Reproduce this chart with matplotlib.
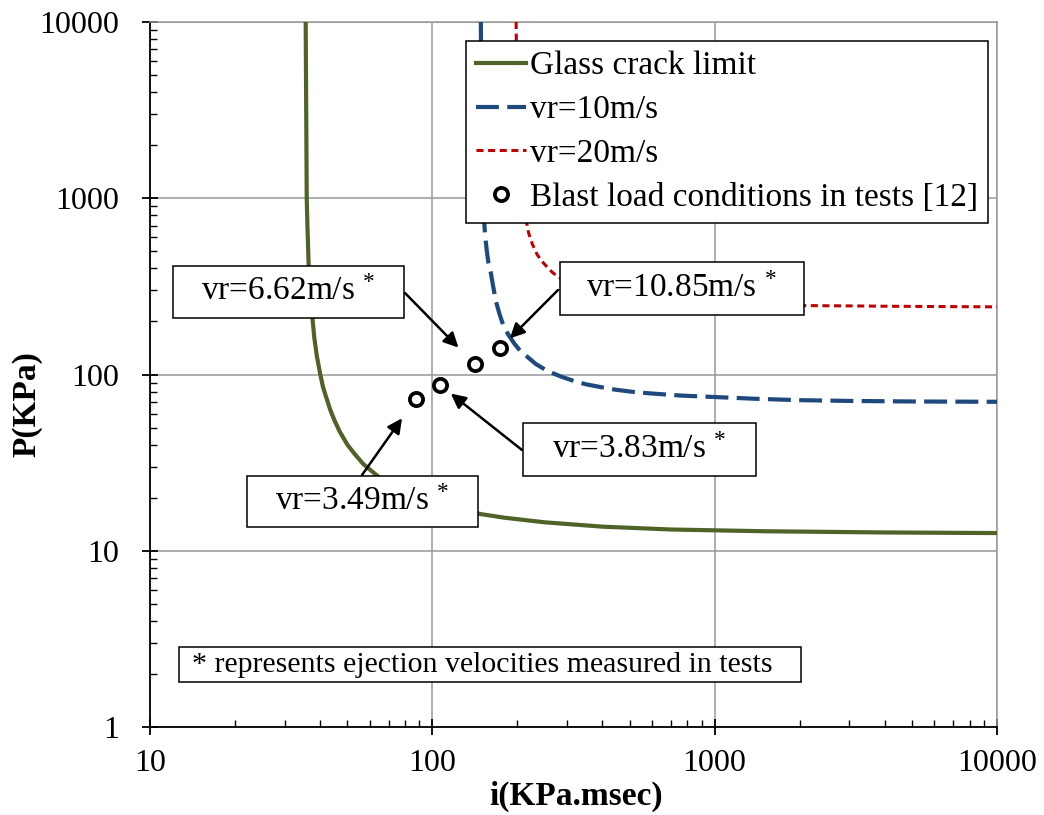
import matplotlib.pyplot as plt
from matplotlib.patches import Rectangle
from matplotlib.ticker import LogLocator, NullFormatter

plt.rcParams['font.family'] = 'Liberation Serif'
plt.rcParams['mathtext.fontset'] = 'custom'
plt.rcParams['mathtext.rm'] = 'Liberation Serif'
plt.rcParams['mathtext.it'] = 'Liberation Serif:italic'
plt.rcParams['mathtext.default'] = 'regular'

# P-I curves: impulse i (KPa.msec) and pressure P (KPa)
crack_i = [35.6, 35.9, 36.1, 36.5, 37, 37.5, 38.2, 39, 40.1, 41, 42, 43.5,
           45, 47, 50, 53, 57, 61, 65, 72, 80, 90, 100, 115, 130, 150, 180,
           250, 400, 700, 1500, 4000, 10000]
crack_p = [10000, 1000, 700, 400, 280, 220, 161, 127, 100, 85, 75, 63,
           55, 47.4, 40, 35.5, 31, 28.3, 26, 23.6, 21.6, 19.9, 18.8, 17.6,
           16.8, 16.1, 15.4, 14.5, 13.7, 13.2, 12.9, 12.7, 12.6]

v10_i = [148.5, 149.2, 150, 151, 152.5, 154, 156, 158, 161, 164, 168, 173,
         179, 186, 195, 205, 217, 232, 250, 270, 287, 320, 350, 400, 445,
         520, 600, 750, 1000, 1400, 2000, 3000, 5000, 10000]
v10_p = [10000, 4000, 2000, 1200, 750, 600, 500, 430, 380, 320, 260, 220,
         187, 168, 150, 136, 126, 115, 107, 101, 97, 91.5, 88, 84.5, 82,
         79.5, 78, 76, 74.5, 72.8, 71.5, 70.8, 70.3, 70]

v20_i = [198, 199, 200, 201, 203, 205, 208, 211, 215, 219, 226, 235, 244,
         254, 266, 279, 298, 320, 355, 400, 470, 550, 650, 800, 1000, 1200,
         1600, 2100, 3000, 4000, 6000, 10000]
v20_p = [10000, 5000, 3000, 2000, 1500, 1200, 1000, 900, 750, 640, 550, 480,
         440, 410, 380, 358, 335, 318, 300, 288, 276, 268, 262, 257, 253, 251,
         248, 246, 245, 244, 243, 242]

# blast load conditions and measured ejection velocities
test_i = [87.3, 106.4, 141.6, 173.8]
test_p = [72.6, 87.2, 114, 141]
test_vr = [3.49, 3.83, 6.62, 10.85]

x_ticks = [10, 100, 1000, 10000]
y_ticks = [1, 10, 100, 1000, 10000]

W, H = 1044, 815
X0, X1, Y0, Y1 = 150, 997, 22, 727   # plot area in pixels


def ax_frac(px, py):
    return (px - X0) / (X1 - X0), (Y1 - py) / (Y1 - Y0)


fig = plt.figure(figsize=(W / 100, H / 100), dpi=100)
ax = fig.add_axes([X0 / W, (H - Y1) / H, (X1 - X0) / W, (Y1 - Y0) / H])

ax.plot(crack_i, crack_p, color='#4F6228', lw=3, label='Glass crack limit', zorder=3)
ax.plot(v10_i, v10_p, color='#1F497D', lw=3, dashes=(5.5, 2), label='vr=10m/s', zorder=3)
ax.plot(v20_i, v20_p, color='#C00000', lw=2.2, dashes=(2.3, 1.5), label='vr=20m/s', zorder=3)
ax.plot(test_i, test_p, 'o', ms=9.5, mfc='none', mec='black', mew=2.7,
        label='Blast load conditions in tests [12]', zorder=4)

ax.set_xscale('log')
ax.set_yscale('log')
ax.set_xlim(x_ticks[0], x_ticks[-1])
ax.set_ylim(y_ticks[0], y_ticks[-1])
ax.set_xticks(x_ticks, [str(t) for t in x_ticks])
ax.set_yticks(y_ticks, [str(t) for t in y_ticks])
for axis in (ax.xaxis, ax.yaxis):
    axis.set_minor_locator(LogLocator(base=10, subs=range(2, 10), numticks=20))
    axis.set_minor_formatter(NullFormatter())
ax.tick_params(which='major', direction='inout', length=12, width=1.3, labelsize=23)
ax.tick_params(which='minor', direction='in', length=5, width=1)
ax.tick_params(axis='x', which='major', pad=9.5)
ax.tick_params(axis='y', which='major', pad=16)

ax.grid(True, which='major', color='#999999', lw=1.1, zorder=0)
for side in ('left', 'bottom'):
    ax.spines[side].set_linewidth(1.3)
for side in ('top', 'right'):
    ax.spines[side].set_color('#999999')
    ax.spines[side].set_linewidth(1.1)

ax.set_xlabel('i(KPa.msec)', fontsize=24, fontweight='bold')
ax.set_ylabel('P(KPa)', fontsize=24, fontweight='bold')
ax.xaxis.set_label_coords(0.503, ax_frac(0, 781)[1])
ax.yaxis.set_label_coords(ax_frac(42, 0)[0], ax_frac(0, 404)[1])

leg = ax.legend(loc='upper right', bbox_to_anchor=(988 / W, 1 - 41 / H),
                bbox_transform=fig.transFigure, borderaxespad=0, fancybox=False,
                edgecolor='black', framealpha=1, fontsize=24, handlelength=1.5,
                handletextpad=0.12, labelspacing=0.4, borderpad=0.3, numpoints=1)
leg.get_frame().set_linewidth(1.1)

# callout boxes (pixel box, arrow tail, arrow shrink at the point)
callouts = [
    ((247, 476, 478, 527), (362, 475), 17),
    ((523, 423, 756, 476), (522, 450), 10),
    ((173, 266, 404, 318), (405, 293), 17),
    ((560, 262, 804, 315), (558, 290), 10),
]
for k, ((bx0, by0, bx1, by1), tail, shrink) in enumerate(callouts):
    fx, fy = ax_frac(bx0, by1)
    fw = (bx1 - bx0) / (X1 - X0)
    fh = (by1 - by0) / (Y1 - Y0)
    ax.add_patch(Rectangle((fx, fy), fw, fh, transform=ax.transAxes,
                           fc='white', ec='black', lw=1.1, zorder=5))
    ax.text(fx + fw / 2, fy + fh / 2, f'vr={test_vr[k]:.2f}m/s $^{{*}}$',
            transform=ax.transAxes, ha='center', va='center', fontsize=24, zorder=6)
    ax.annotate('', xy=(test_i[k], test_p[k]), xytext=ax_frac(*tail),
                textcoords='axes fraction', zorder=6,
                arrowprops=dict(arrowstyle='-|>', color='black', lw=1.8,
                                shrinkA=0, shrinkB=shrink, mutation_scale=22))

# footnote box
nx, ny = ax_frac(179, 682)
ax.add_patch(Rectangle((nx, ny), 622 / (X1 - X0), 35 / (Y1 - Y0), transform=ax.transAxes,
                       fc='white', ec='black', lw=1.1, zorder=5))
ax.text(*ax_frac(192, 664.5), '* represents ejection velocities measured in tests',
        transform=ax.transAxes, ha='left', va='center', fontsize=21.5, zorder=6)

fig.savefig('out.png', dpi=100)
